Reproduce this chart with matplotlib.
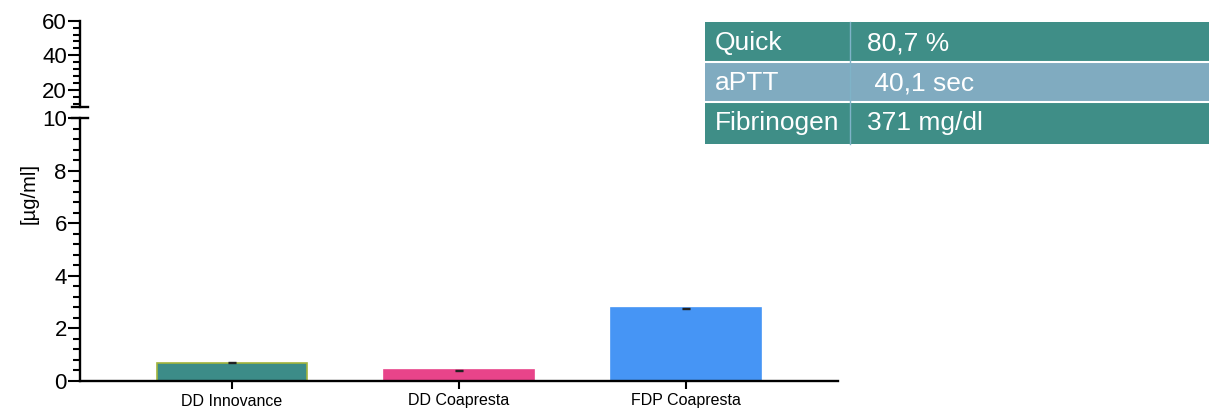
import matplotlib
matplotlib.use("Agg")
import matplotlib.pyplot as plt
from matplotlib.patches import Rectangle
import numpy as np

plt.rcParams['font.family'] = ['Liberation Sans', 'DejaVu Sans']

categories = ["DD Innovance", "DD Coapresta", "FDP Coapresta"]
values = [0.69, 0.41, 2.77]
errors = [0.02, 0.02, 0.02]
bar_colors = ["#3c8c88", "#e8448a", "#4695f5"]
edge_colors = ["#a3b43c", "#e8448a", "#4695f5"]

table_labels = ["Quick", "aPTT", "Fibrinogen"]
table_values = ["80,7 %", " 40,1 sec", "371 mg/dl"]
table_colors = ["#3f8e87", "#80abc0", "#3f8e87"]

W, H = 1209, 412
fig = plt.figure(figsize=(W / 100, H / 100), dpi=100)

def fx(px):
    return px / W

def fy(py):
    return 1 - py / H

ax_left, ax_right = 80, 838
# bottom axis: 0..10
axb = fig.add_axes([fx(ax_left), fy(381), fx(ax_right - ax_left), fy(118) - fy(381)])
# top axis: 10..60
axt = fig.add_axes([fx(ax_left), fy(107.3), fx(ax_right - ax_left), fy(20.7) - fy(107.3)])

x = np.arange(len(categories))
for ax in (axb, axt):
    ax.bar(x, values, width=0.66, color=bar_colors, edgecolor=edge_colors, linewidth=1.2, zorder=2)
    ax.errorbar(x, values, yerr=errors, fmt='none', ecolor='#222222', elinewidth=1.0,
                capsize=2.6, capthick=1.0, zorder=3)
    ax.set_xlim(-0.67, 2.67)
    for s in ('top', 'right'):
        ax.spines[s].set_visible(False)
    ax.spines['left'].set_linewidth(1.7)
    ax.spines['bottom'].set_linewidth(1.7)
    ax.tick_params(axis='y', which='major', length=8.5, width=1.5, labelsize=16, pad=1)
    ax.tick_params(axis='y', which='minor', length=5, width=1.5)
    ax.patch.set_alpha(0)

axb.set_ylim(0, 10)
axb.set_yticks([0, 2, 4, 6, 8, 10])
axb.set_yticks(np.arange(0, 10.01, 0.4), minor=True)
axb.set_xticks(x)
axb.set_xticklabels(categories, fontsize=11.5)
axb.tick_params(axis='x', length=6, width=1.5, pad=3)

axt.set_ylim(10, 60)
axt.set_yticks([20, 40, 60])
axt.set_yticks([12, 16, 24, 28, 32, 36, 44, 48, 52, 56], minor=True)
axt.spines['bottom'].set_visible(False)
axt.set_xticks([])

# break caps
axt.plot([-0.011, 0.011], [0, 0], transform=axt.transAxes, color='black', lw=1.7, clip_on=False)
axb.plot([-0.011, 0.011], [1, 1], transform=axb.transAxes, color='black', lw=1.7, clip_on=False)

fig.text(fx(29), fy(193), "[µg/ml]", rotation=90, ha='center', va='center', fontsize=14.5)

# info table
row_tops = [22, 62, 102]
row_h = 40
tab_left, tab_right, col_div = 705, 1215, 850
for i, (lab, val, col) in enumerate(zip(table_labels, table_values, table_colors)):
    top = row_tops[i]
    bot = top + row_h + (2 if i == 2 else 0)
    fig.patches.append(Rectangle((fx(tab_left), fy(bot)), fx(tab_right - tab_left), fy(top) - fy(bot),
                                 transform=fig.transFigure, facecolor=col, edgecolor='none'))
    fig.text(fx(715), fy(top + row_h / 2 + 1), lab, color='white', fontsize=19, ha='left', va='center')
    fig.text(fx(867), fy(top + row_h / 2 + 1), val, color='white', fontsize=19, ha='left', va='center')
# separators
for yy in (62, 102):
    fig.add_artist(plt.Line2D([fx(tab_left), fx(tab_right)], [fy(yy), fy(yy)], transform=fig.transFigure,
                              color='white', lw=1.5))
fig.add_artist(plt.Line2D([fx(col_div), fx(col_div)], [fy(22), fy(144)], transform=fig.transFigure,
                          color='#7fb3c8', lw=1))

fig.savefig("out.png", dpi=100)
